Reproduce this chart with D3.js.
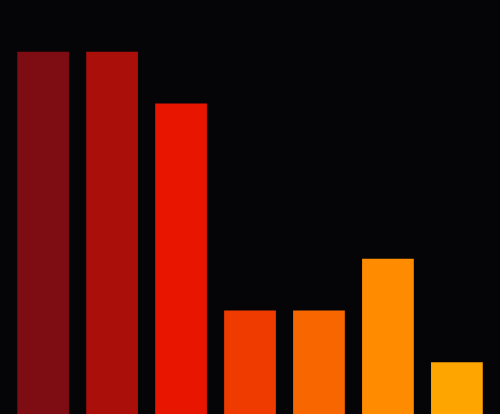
<!DOCTYPE html>
<html>
<head>
<meta charset="utf-8">
<script src="https://cdn.jsdelivr.net/npm/d3@7"></script>
<style>
  html, body { margin: 0; padding: 0; background: #050507; }
  svg { display: block; }
</style>
</head>
<body>
<svg class="viz"></svg>
<script>
var width = 500,
  height = 414;

// bar values
var categories = ["a", "b", "c", "d", "e", "f", "g"];
var values = [7, 7, 6, 2, 2, 3, 1];
var colors = ["#7e0c13", "#ab0f09", "#e81500", "#ef3b00", "#f86600", "#ff8c00", "#ffa500"];

var viz = d3.select(".viz")
  .attr("width", width)
  .attr("height", height);

viz.append("rect")
  .attr("width", width)
  .attr("height", height)
  .attr("fill", "#050507");

var x = d3.scaleBand()
  .domain(categories)
  .range([0, width])
  .padding(0.25);

var y = d3.scaleLinear()
  .domain([0, 8])
  .range([height, 0]);

viz.selectAll("rect.bar")
  .data(values)
  .enter()
  .append("rect")
  .attr("class", "bar")
  .attr("x", (d, i) => x(categories[i]))
  .attr("width", x.bandwidth())
  .attr("y", d => y(d))
  .attr("height", d => height - y(d))
  .attr("fill", (d, i) => colors[i]);
</script>
</body>
</html>
